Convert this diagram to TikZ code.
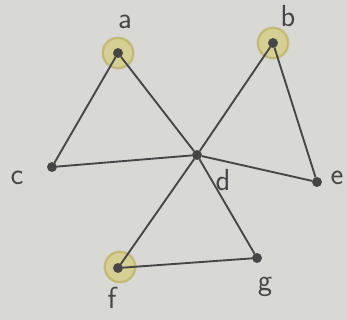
\documentclass[tikz,border=0pt]{standalone}
\usepackage{amsmath, amssymb}
\definecolor{paper}{RGB}{216,216,213}
\definecolor{pencil}{RGB}{70,70,70}
\definecolor{marker}{RGB}{214,200,96}
\tikzstyle{vertex}=[circle, fill=pencil, draw=pencil, inner sep=0pt, minimum size=8pt]
\tikzstyle{glow}=[circle, fill=marker, fill opacity=0.55, draw=marker!85!black, line width=2pt, draw opacity=0.6, inner sep=0pt, minimum size=26pt]
\tikzstyle{label}=[text=pencil, font=\sffamily\fontsize{26}{28}\selectfont, inner sep=0pt]
\tikzstyle{edge}=[pencil, line width=1.6pt]

\begin{document}
\begin{tikzpicture}[x=0.03cm, y=-0.03cm]
				% paper
				\fill[paper] (0,0) rectangle (347,320);
				\useasboundingbox (0,0) rectangle (347,320);

				% Highlighted vertices
				\node[glow] (ha) at (118,53) {};
				\node[glow] (hb) at (273,43) {};
				\node[glow] (hf) at (120,267) {};

				\node[vertex] (a) at (118,53) {};
				\node[vertex] (b) at (273,43) {};
				\node[vertex] (c) at (52,167) {};
				\node[vertex] (d) at (197,155) {};
				\node[vertex] (e) at (317,182) {};
				\node[vertex] (f) at (118,268) {};
				\node[vertex] (g) at (257,258) {};

				\node[label] (la) at (125,22) {a};
				\node[label] (lb) at (288,16) {b};
				\node[label] (lc) at (17,178) {c};
				\node[label] (ld) at (223,180) {d};
				\node[label] (le) at (337,178) {e};
				\node[label] (lf) at (112,298) {f};
				\node[label] (lg) at (265,287) {g};

				% Edges
				\foreach \u/\v in {a/c, a/d, b/d, b/e, c/d, d/e, d/f, d/g, f/g}{ \draw[edge] (\u) -- (\v); }
			\end{tikzpicture}
\end{document}
